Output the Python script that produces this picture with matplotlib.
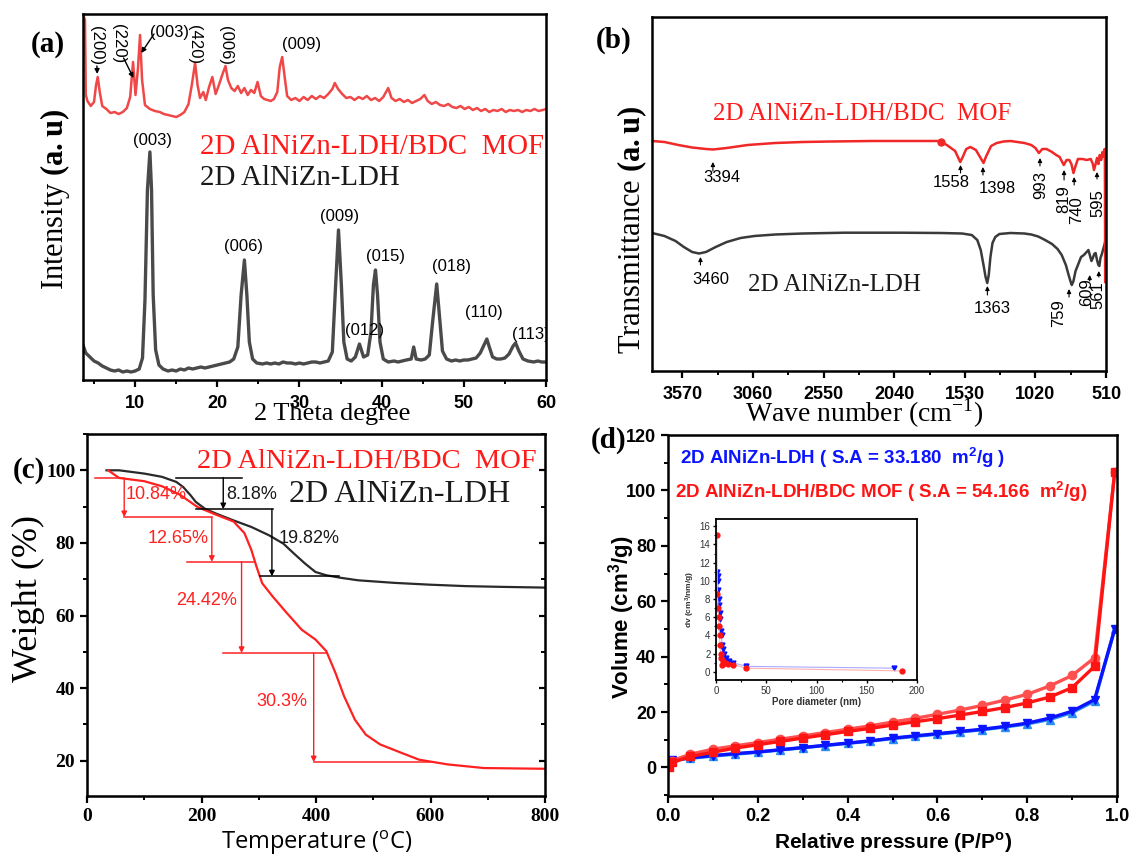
import matplotlib

matplotlib.use("Agg")
import matplotlib.pyplot as plt
from matplotlib.ticker import MultipleLocator

plt.rcParams["mathtext.fontset"] = "custom"
plt.rcParams["mathtext.rm"] = "Liberation Serif"
plt.rcParams["mathtext.bf"] = "Liberation Serif:bold"
plt.rcParams["mathtext.sf"] = "Liberation Sans:bold"
plt.rcParams["mathtext.it"] = "Open Sans"

SERIF = "Liberation Serif"
SANS = "Liberation Sans"

# ---------------- (a) XRD ----------------
xrd_ldh_2theta = [3.66, 4.0, 4.5, 5.0, 5.5, 6.0, 6.5, 7.0, 7.5, 8.0, 8.5, 9.0, 9.5, 10.0, 10.5, 10.9,
                  11.2, 11.5, 11.8, 12.0, 12.2, 12.5, 12.9, 13.4, 14.0, 14.5, 15.0, 15.5, 16.0, 16.5,
                  17.0, 17.5, 18.0, 18.5, 19.0, 19.5, 20.0, 20.5, 21.0, 21.5, 22.0, 22.5, 22.9, 23.3,
                  23.6, 23.9, 24.3, 24.8, 25.5, 26.0, 26.5, 27.0, 27.5, 28.0, 28.5, 29.0, 29.5, 30.0,
                  30.5, 31.0, 31.5, 32.0, 32.5, 33.0, 33.5, 34.0, 34.4, 34.75, 35.1, 35.4, 35.8, 36.3,
                  36.8, 37.3, 37.8, 38.3, 38.7, 39.0, 39.25, 39.5, 39.8, 40.2, 40.8, 41.5, 42.0, 42.5,
                  43.0, 43.6, 43.9, 44.2, 44.8, 45.3, 45.8, 46.2, 46.7, 47.1, 47.4, 47.9, 48.5, 49.0,
                  49.5, 50.0, 50.5, 51.0, 51.5, 52.0, 52.4, 52.8, 53.1, 53.5, 54.0, 54.5, 55.0, 55.5,
                  56.0, 56.3, 56.7, 57.2, 57.8, 58.5, 59.0, 59.5, 60.0]
xrd_ldh_int = [35, 27, 23, 19, 17, 14, 12, 10, 9, 10, 8, 9, 8, 9, 11, 22,
               80, 190, 228, 190, 85, 30, 15, 11, 9, 10, 9, 11, 10, 12,
               11, 12, 13, 12, 13, 14, 15, 16, 17, 18, 21, 33, 85, 120,
               85, 38, 21, 17, 16, 17, 16, 17, 16, 18, 17, 17, 16, 17,
               16, 17, 18, 18, 17, 18, 19, 28, 95, 150, 95, 38, 21, 19,
               23, 36, 23, 25, 48, 95, 110, 85, 38, 21, 18, 19, 18, 19,
               20, 21, 33, 21, 20, 21, 25, 58, 96, 58, 29, 21, 19, 20,
               19, 20, 20, 21, 22, 27, 34, 41, 33, 23, 21, 21, 22, 26,
               34, 37, 29, 21, 19, 18, 19, 18, 18]

xrd_mof_2theta = [3.66, 3.9, 4.0, 4.2, 4.6, 5.0, 5.25, 5.45, 5.7, 6.0, 6.5, 7.0, 7.5, 8.0, 8.5, 9.0,
                  9.4, 9.75, 10.05, 10.35, 10.6, 10.85, 11.2, 11.8, 12.4, 13.0, 13.5, 14.0, 14.5,
                  15.0, 15.5, 16.0, 16.5, 16.9, 17.3, 17.6, 17.9, 18.3, 18.6, 19.0, 19.4, 19.8,
                  20.2, 20.6, 21.0, 21.3, 21.7, 22.1, 22.5, 22.9, 23.3, 23.7, 24.1, 24.5, 24.9,
                  25.3, 25.7, 26.1, 26.5, 26.9, 27.3, 27.6, 27.9, 28.2, 28.5, 29.0, 29.5, 30.0,
                  30.5, 31.0, 31.5, 32.0, 32.5, 33.0, 33.5, 34.0, 34.3, 34.7, 35.2, 35.7, 36.2,
                  36.7, 37.2, 37.7, 38.2, 38.7, 39.2, 39.7, 40.2, 40.8, 41.2, 41.7, 42.2, 42.7,
                  43.2, 43.7, 44.2, 44.7, 45.2, 45.6, 46.1, 46.6, 47.1, 47.6, 48.1, 48.6, 49.1,
                  49.6, 50.1, 50.6, 51.1, 51.6, 52.1, 52.6, 53.1, 53.6, 54.1, 54.6, 55.1, 55.6,
                  56.1, 56.6, 57.1, 57.6, 58.1, 58.6, 59.1, 59.6, 60.0]
xrd_mof_int = [366, 360, 285, 279, 274, 278, 295, 303, 288, 274, 271, 267, 268, 266, 268, 272,
               283, 318, 285, 312, 345, 300, 275, 271, 269, 268, 266, 265, 264,
               263, 265, 268, 276, 295, 317, 295, 282, 288, 280, 293, 303, 286,
               295, 305, 314, 300, 292, 289, 294, 287, 292, 285, 290, 287, 298,
               284, 281, 280, 279, 281, 288, 313, 323, 303, 284, 280, 282, 279,
               283, 280, 284, 281, 284, 282, 286, 291, 297, 291, 286, 282, 283,
               280, 283, 281, 284, 280, 282, 279, 283, 292, 282, 279, 281, 278,
               280, 277, 279, 281, 285, 279, 276, 278, 275, 274, 276, 273, 272,
               274, 271, 273, 270, 272, 269, 271, 268, 270, 269, 271, 268, 270,
               269, 270, 268, 270, 269, 271, 269, 270, 271]

ldh_hkl = ["(003)", "(006)", "(009)", "(012)", "(015)", "(018)", "(110)", "(113)"]
ldh_hkl_x = [12.1, 23.2, 34.9, 37.9, 40.5, 48.5, 52.4, 58.1]
ldh_hkl_y = [240, 133, 164, 49, 123, 114, 68, 46]

mof_hkl_rot = ["(200)", "(220)", "(420)", "(006)"]
mof_hkl_rot_x = [5.31, 7.95, 17.25, 21.0]
mof_hkl_rot_y = [334, 336, 335, 334]

# ---------------- (b) FTIR ----------------
ftir_mof_wn = [3790, 3700, 3600, 3500, 3400, 3350, 3250, 3100, 2900, 2700, 2500, 2200, 1900, 1720,
               1700, 1660, 1620, 1600, 1580, 1563, 1545, 1520, 1490, 1450, 1420, 1395, 1375, 1340,
               1300, 1250, 1200, 1150, 1100, 1050, 1020, 995, 970, 940, 900, 870, 845, 815, 795,
               775, 760, 745, 730, 713, 680, 650, 620, 605, 597, 585, 575, 565, 555, 545, 535,
               525, 520, 518, 516]
ftir_mof_t = [230, 229, 226, 223.5, 222, 221.5, 223, 226, 228, 229, 229.5, 230, 230, 230,
              229, 226, 222, 220, 214, 209, 214, 222, 224, 221, 214, 208, 215, 225,
              228, 229.5, 230, 229, 228, 226, 223, 218, 222, 222, 219, 216, 214, 206, 211,
              211, 207, 198, 205, 212, 212, 211, 212, 207, 201, 207, 213, 207, 216, 211, 219,
              214, 222, 215, 89]

ftir_ldh_wn = [3790, 3700, 3620, 3560, 3500, 3450, 3400, 3330, 3250, 3150, 3050, 2900, 2700, 2400,
               2000, 1700, 1550, 1480, 1440, 1415, 1395, 1380, 1368, 1357, 1345, 1330, 1310, 1280,
               1200, 1100, 1050, 1000, 950, 900, 860, 830, 800, 780, 765, 757, 745, 730, 710, 690,
               670, 650, 637, 625, 615, 605, 595, 585, 575, 565, 558, 550, 540, 530, 520, 512, 510]
ftir_ldh_t = [138, 135, 130, 124, 119, 117.5, 119, 124, 129, 133, 135, 136.5, 137.5, 138.3,
              138.3, 138, 137.5, 136, 131, 121, 106, 94, 88, 96, 114, 128, 134, 137,
              138, 137.5, 136.5, 134.5, 131, 127, 122, 116, 106, 96, 89, 86, 90, 100, 107, 114,
              116, 119, 121, 115, 110, 113, 117, 118, 111, 106, 105, 113, 117, 122, 127, 132, 138]

# label text, label x, label y, rotation, arrow x, arrow tail y, arrow head y
ftir_mof_marks = [("3394", 3287, 193, 0, 3350, 200, 209),
                  ("1558", 1630, 188, 0, 1561, 198, 206),
                  ("1398", 1297, 182, 0, 1399, 196, 204),
                  ("993", 982, 186, 90, 987, 205, 213),
                  ("819", 813, 172, 90, 813, 191, 201),
                  ("740", 724, 161, 90, 740, 186, 194),
                  ("595", 572, 168, 90, 575, 192, 199)]
ftir_ldh_marks = [("3460", 3364, 91, 0, 3440, 106, 114),
                  ("1363", 1333, 62, 0, 1367, 76, 85),
                  ("759", 849, 58, 90, 777, 74, 82),
                  ("609", 650, 79, 90, 628, 90, 96),
                  ("561", 571, 76, 90, 562, 94, 100)]

# ---------------- (c) TGA ----------------
tga_ldh_temp = [34, 56, 100, 131, 156, 168, 181, 190, 206, 225, 256, 287, 318, 343, 362, 381, 399,
                418, 443, 474, 537, 599, 662, 724, 799]
tga_ldh_wt = [100, 100, 99.1, 98.2, 96.8, 95.4, 93.1, 91.3, 89.4, 88.1, 86.2, 84.4, 82.1, 79.8,
              77.0, 74.3, 72.0, 71.1, 70.4, 69.7, 69.0, 68.5, 68.1, 67.9, 67.7]
tga_mof_temp = [37, 56, 100, 131, 162, 193, 225, 256, 275, 287, 296, 306, 324, 349, 375, 399, 418,
                434, 449, 468, 487, 512, 549, 580, 630, 693, 799]
tga_mof_wt = [100, 97.9, 97.0, 95.6, 93.3, 89.9, 87.8, 85.9, 82.7, 78.1, 73.5, 68.9, 65.3, 60.7,
              56.1, 53.4, 50.2, 44.2, 37.8, 31.3, 27.2, 24.5, 22.2, 20.3, 19.0, 18.0, 17.8]

# steps: (x of arrow, top, bottom, left of top line, right of top line)
tga_ldh_steps = [(238, 98.0, 89.3, 156, 271), (323, 89.3, 70.8, 190, 325)]
tga_ldh_floor = (70.8, 303, 440)
tga_ldh_labels = [("8.18%", 243, 93.3), ("19.82%", 334, 81.3)]
tga_mof_steps = [(65, 97.9, 87.1, 14, 62), (218, 87.1, 74.8, 65, 218),
                 (270, 74.8, 49.7, 175, 293), (396, 49.7, 19.6, 237, 418)]
tga_mof_floor = (19.6, 396, 599)
tga_mof_labels = [("10.84%", 121, 93.3), ("12.65%", 160, 81.3), ("24.42%", 208, 64.1),
                  ("30.3%", 340, 36.3)]

# ---------------- (d) BET ----------------
bet_p = [0.002, 0.01, 0.05, 0.1, 0.15, 0.2, 0.25, 0.3, 0.35, 0.4, 0.45, 0.5, 0.55, 0.6, 0.65, 0.7,
         0.75, 0.8, 0.85, 0.9, 0.95, 0.995]
bet_mof_ads = [0.0, 1.8, 4.0, 5.5, 7.0, 8.2, 9.4, 10.6, 11.8, 13.0, 14.1, 15.3, 16.5, 17.6, 18.9,
               20.2, 21.6, 23.3, 25.4, 28.8, 36.5, 106.8]
bet_mof_des = [1.0, 2.5, 4.8, 6.6, 7.8, 9.0, 10.2, 11.4, 12.6, 13.8, 15.0, 16.4, 17.7, 19.2, 20.7,
               22.4, 24.3, 26.4, 29.4, 33.2, 39.6, 106.8]
bet_ldh_ads = [2.0, 2.8, 3.5, 4.3, 5.0, 5.6, 6.4, 7.2, 8.0, 8.8, 9.6, 10.6, 11.4, 12.2, 13.0, 13.8,
               14.8, 16.0, 17.8, 20.3, 24.5, 50.0]
bet_ldh_des = [1.5, 2.5, 3.3, 4.1, 4.8, 5.5, 6.3, 7.1, 7.9, 8.7, 9.5, 10.4, 11.2, 12.0, 12.8,
               13.6, 14.6, 15.7, 17.3, 19.8, 24.0, 50.0]

pore_ldh_d = [1.0, 1.5, 2.0, 2.2, 2.5, 3.0, 3.5, 4.0, 5.0, 5.5, 6.0, 7.0, 8.0, 10.0, 13.0, 17.0, 30.0,
              177.0]
pore_ldh_dv = [11.0, 10.5, 10.0, 9.0, 8.0, 7.3, 6.5, 5.8, 4.5, 4.0, 3.0, 2.5, 2.0, 1.5, 1.2, 1.0,
               0.6, 0.4]
pore_mof_d = [1.0, 1.3, 2.0, 2.5, 3.0, 3.5, 4.0, 4.5, 5.0, 6.0, 7.0, 9.0, 12.0, 17.0, 30.0, 185.0]
pore_mof_dv = [15.0, 8.5, 7.0, 6.0, 5.0, 4.0, 3.0, 2.0, 1.5, 0.7, 1.2, 1.0, 0.9, 0.8, 0.4, 0.1]

W, H = 1131, 857
fig = plt.figure(figsize=(W / 100, H / 100), dpi=100)


def box(left, top, right, bottom):
    return [left / W, 1 - bottom / H, (right - left) / W, (bottom - top) / H]


def at(x, y):
    return x / W, 1 - y / H


def frame(ax, lw=1.8):
    for spine in ax.spines.values():
        spine.set_linewidth(lw)
        spine.set_color("black")


# ---- (a)
ax_a = fig.add_axes(box(83, 14, 546, 380))
frame(ax_a)
ax_a.plot(xrd_ldh_2theta, xrd_ldh_int, color="#4a4a4a", lw=2.4)
ax_a.plot(xrd_mof_2theta, xrd_mof_int, color="#f04848", lw=1.8)
ax_a.set_xlim(3.66, 60)
ax_a.set_ylim(0, 366)
ax_a.set_yticks([])
ax_a.xaxis.set_major_locator(MultipleLocator(10))
ax_a.xaxis.set_minor_locator(MultipleLocator(5))
ax_a.tick_params(axis="x", which="major", direction="out", length=5, width=1.6, pad=6)
ax_a.tick_params(axis="x", which="minor", direction="out", length=3, width=1.4)
for lab in ax_a.get_xticklabels():
    lab.set_fontfamily(SANS)
    lab.set_fontweight("bold")
    lab.set_fontsize(13)
for text, x, y in zip(ldh_hkl, ldh_hkl_x, ldh_hkl_y):
    ax_a.text(x, y, text, fontsize=12, family=SANS, ha="center", va="center", clip_on=True)
for text, x, y in zip(mof_hkl_rot, mof_hkl_rot_x, mof_hkl_rot_y):
    ax_a.text(x, y, text, fontsize=12, family=SANS, ha="center", va="center", rotation=-90)
ax_a.text(30.3, 335, "(009)", fontsize=12, family=SANS, ha="center", va="center")
ax_a.text(14.2, 348, "(003)", fontsize=12, family=SANS, ha="center", va="center")
arrow_a = dict(arrowstyle="-|>", color="black", lw=1.0, mutation_scale=7, shrinkA=0, shrinkB=0)
ax_a.annotate("", xy=(5.4, 306), xytext=(5.35, 314), arrowprops=arrow_a)
ax_a.annotate("", xy=(9.8, 302), xytext=(8.6, 322), arrowprops=arrow_a)
ax_a.annotate("", xy=(10.75, 327), xytext=(12.3, 346), arrowprops=arrow_a)
ax_a.text(17.9, 233, "2D AlNiZn-LDH/BDC  MOF", color="#ff1a1a", fontsize=20.8, family=SERIF,
          va="center")
ax_a.text(17.9, 202, "2D AlNiZn-LDH", color="#1a1a1a", fontsize=20.8, family=SERIF, va="center")
fig.text(*at(48, 44), "(a)", fontsize=21, family=SERIF, weight="bold", ha="center", va="center")
fig.text(*at(55, 200), r"Intensity $\mathbf{(a.u)}$", fontsize=22, family=SERIF, rotation=90,
         ha="center", va="center")
fig.text(*at(332, 414), "2 Theta degree", fontsize=19, family=SERIF, ha="center", va="center")

# ---- (b)
ax_b = fig.add_axes(box(652, 17, 1106, 371))
frame(ax_b)
ax_b.plot(ftir_ldh_wn, ftir_ldh_t, color="#3a3a3a", lw=1.8)
ax_b.plot(ftir_mof_wn, ftir_mof_t, color="#f02828", lw=1.8)
ax_b.plot([1700], [229], "o", color="#f02828", ms=5)
ax_b.set_xlim(3790, 510)
ax_b.set_ylim(0, 354)
ax_b.set_yticks([])
ax_b.set_xticks([3570, 3060, 2550, 2040, 1530, 1020, 510])
ax_b.xaxis.set_minor_locator(MultipleLocator(255))
ax_b.tick_params(axis="x", which="major", direction="out", length=5, width=1.6, pad=6)
ax_b.tick_params(axis="x", which="minor", direction="out", length=3, width=1.4)
for lab in ax_b.get_xticklabels():
    lab.set_fontfamily(SANS)
    lab.set_fontweight("bold")
    lab.set_fontsize(13)
arrow_b = dict(arrowstyle="-|>", color="black", lw=0.8, mutation_scale=6, shrinkA=0, shrinkB=0)
for marks in (ftir_mof_marks, ftir_ldh_marks):
    for text, lx, ly, rot, axx, tail, head in marks:
        ax_b.text(lx, ly, text, fontsize=12, family=SANS, ha="center", va="center", rotation=rot)
        ax_b.annotate("", xy=(axx, head), xytext=(axx, tail), arrowprops=arrow_b)
ax_b.text(3350, 257, "2D AlNiZn-LDH/BDC  MOF", color="#ff1a1a", fontsize=18, family=SERIF,
          va="center")
ax_b.text(3100, 86, "2D AlNiZn-LDH", color="#1a1a1a", fontsize=18, family=SERIF, va="center")
fig.text(*at(614, 40), "(b)", fontsize=21, family=SERIF, weight="bold", ha="center", va="center")
fig.text(*at(632, 230), r"Transmittance $\mathbf{(a.u)}$", fontsize=22, family=SERIF,
         rotation=90, ha="center", va="center")
fig.text(*at(864, 413), r"Wave number (cm$^{\mathrm{-1}}$)", fontsize=20, family=SERIF,
         ha="center", va="center")

# ---- (c)
ax_c = fig.add_axes(box(87, 434, 545, 796))
frame(ax_c)
ax_c.plot(tga_ldh_temp, tga_ldh_wt, color="#2a2a2a", lw=1.6)
ax_c.plot(tga_mof_temp, tga_mof_wt, color="#ff2020", lw=1.6)
arrow_c = dict(arrowstyle="-|>", lw=1.0, mutation_scale=8, shrinkA=0, shrinkB=0)
for steps, floor, color in ((tga_ldh_steps, tga_ldh_floor, "black"),
                            (tga_mof_steps, tga_mof_floor, "#ff2020")):
    for x, top, bottom, x0, x1 in steps:
        ax_c.plot([x0, x1], [top, top], color=color, lw=1.1)
        ax_c.annotate("", xy=(x, bottom), xytext=(x, top), arrowprops=dict(arrow_c, color=color))
    ax_c.plot([floor[1], floor[2]], [floor[0], floor[0]], color=color, lw=1.1)
for text, x, y in tga_ldh_labels:
    ax_c.text(x, y, text, fontsize=13, family=SANS, va="center", ha="left", color="#1a1a1a")
for text, x, y in tga_mof_labels:
    ax_c.text(x, y, text, fontsize=13, family=SANS, va="center", ha="center", color="#ff2020")
ax_c.text(786, 102.5, "2D AlNiZn-LDH/BDC  MOF", color="#ff1a1a", fontsize=20.5, family=SERIF,
          va="center", ha="right")
ax_c.text(352, 93.3, "2D AlNiZn-LDH", color="#1a1a1a", fontsize=23, family=SERIF, va="center")
ax_c.set_xlim(0, 800)
ax_c.set_ylim(10.3, 110)
ax_c.set_xticks([0, 200, 400, 600, 800])
ax_c.set_yticks([20, 40, 60, 80, 100])
ax_c.xaxis.set_minor_locator(MultipleLocator(100))
ax_c.yaxis.set_minor_locator(MultipleLocator(10))
ax_c.tick_params(which="major", direction="out", length=5, width=1.6)
ax_c.tick_params(which="minor", direction="out", length=3, width=1.4)
for lab in ax_c.get_xticklabels() + ax_c.get_yticklabels():
    lab.set_fontfamily(SERIF)
    lab.set_fontweight("bold")
    lab.set_fontsize(14)
ax_c_right = ax_c.twinx()
ax_c_right.set_ylim(10.3, 110)
ax_c_right.set_yticks([20, 40, 60, 80, 100])
ax_c_right.yaxis.set_minor_locator(MultipleLocator(10))
ax_c_right.tick_params(which="major", direction="in", length=4, width=1.6, labelright=False)
ax_c_right.tick_params(which="minor", direction="in", length=3, width=1.4)
fig.text(*at(29, 470), "(c)", fontsize=21, family=SERIF, weight="bold", ha="center", va="center")
fig.text(*at(28, 598), "Weight (%)", fontsize=26, family=SERIF, rotation=90, ha="center",
         va="center")
fig.text(*at(317, 843), r"Temperature ($^{\mathit{o}}$C)", fontsize=17, family="Open Sans",
         ha="center", va="center")

# ---- (d)
ax_d = fig.add_axes(box(668, 435, 1117, 796))
frame(ax_d)
ax_d.plot(bet_p, bet_ldh_des, color="#2b8ff0", lw=2.4, marker="^", ms=6)
ax_d.plot(bet_p, bet_ldh_ads, color="#0a14ff", lw=2.4, marker="v", ms=6)
ax_d.plot(bet_p, bet_mof_des, color="#ff5050", lw=2.4, marker="o", ms=6)
ax_d.plot(bet_p, bet_mof_ads, color="#ff1414", lw=2.4, marker="s", ms=5.5)
ax_d.set_xlim(0, 1.0)
ax_d.set_ylim(-10.3, 120)
ax_d.set_yticks([0, 20, 40, 60, 80, 100, 120])
ax_d.set_xticks([0.0, 0.2, 0.4, 0.6, 0.8, 1.0])
ax_d.xaxis.set_minor_locator(MultipleLocator(0.1))
ax_d.yaxis.set_minor_locator(MultipleLocator(10))
ax_d.tick_params(which="major", direction="out", length=5, width=1.6)
ax_d.tick_params(which="minor", direction="out", length=3, width=1.4)
for lab in ax_d.get_xticklabels() + ax_d.get_yticklabels():
    lab.set_fontfamily(SANS)
    lab.set_fontweight("bold")
    lab.set_fontsize(13)
fig.text(*at(680, 458), r"2D AlNiZn-LDH ( S.A = 33.180  m$^{\mathsf{2}}$/g )", color="#0a14ff",
         fontsize=13.5, family=SANS, weight="bold", va="center")
fig.text(*at(675, 492), r"2D AlNiZn-LDH/BDC MOF ( S.A = 54.166  m$^{\mathsf{2}}$/g)",
         color="#ff1414", fontsize=13.5, family=SANS, weight="bold", va="center")
fig.text(*at(609, 440), "(d)", fontsize=21, family=SERIF, weight="bold", ha="center", va="center")
fig.text(*at(622, 617), r"Volume (cm$^{\mathsf{3}}$/g)", fontsize=16, family=SANS, weight="bold",
         rotation=90, ha="center", va="center")
fig.text(*at(893, 843), r"Relative pressure (P/P$^{\mathsf{o}}$)", fontsize=15, family=SANS,
         weight="bold", ha="center", va="center")

ax_in = fig.add_axes(box(716, 519, 917, 680))
frame(ax_in, lw=1.3)
ax_in.plot(pore_ldh_d, pore_ldh_dv, color="#a9a9ff", lw=0.8, marker="v", ms=3.5,
           mfc="#0a14ff", mec="#0a14ff")
ax_in.plot(pore_mof_d, pore_mof_dv, color="#ffb0b0", lw=0.8, marker="o", ms=3.5,
           mfc="#ff1414", mec="#ff1414")
ax_in.set_xlim(0, 200)
ax_in.set_ylim(-0.9, 16.8)
ax_in.set_xticks([0, 50, 100, 150, 200])
ax_in.set_yticks(range(0, 17, 2))
ax_in.xaxis.set_minor_locator(MultipleLocator(25))
ax_in.yaxis.set_minor_locator(MultipleLocator(1))
ax_in.tick_params(which="major", direction="out", length=2.5, width=1.0, labelsize=7, pad=1.5)
ax_in.tick_params(which="minor", direction="out", length=1.5, width=0.8)
for lab in ax_in.get_xticklabels() + ax_in.get_yticklabels():
    lab.set_fontfamily(SANS)
    lab.set_color("#333333")
ax_in.set_xlabel("Pore diameter (nm)", fontsize=7, family=SANS, weight="bold", labelpad=1,
                 color="#333333")
ax_in.set_ylabel(r"dv (cm$^{\mathsf{3}}$/nm/g)", fontsize=6, family=SANS, weight="bold",
                 labelpad=2, color="#333333")

fig.savefig("out.png", dpi=100)
